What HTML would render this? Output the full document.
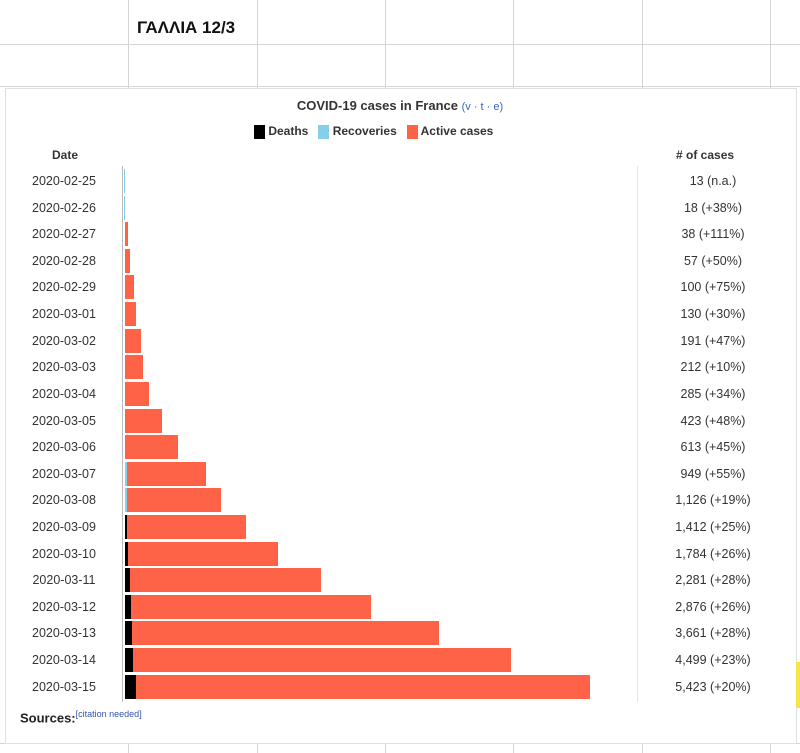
<!DOCTYPE html>
<html><head><meta charset="utf-8"><style>
body{margin:0;width:800px;height:753px;background:#fff;position:relative;overflow:hidden;font-family:"Liberation Sans",sans-serif}
.a{position:absolute}
.vl{position:absolute;width:1px;background:#d4d4d4}
.hl{position:absolute;height:1px;background:#d4d4d4}
.d{position:absolute;left:10px;width:108px;text-align:center;font-size:12.5px;color:#333;line-height:16px}
.v{position:absolute;left:642px;width:142px;text-align:center;font-size:12.5px;color:#333;line-height:16px}
.b{position:absolute;left:125px;height:24px;background:#ff6347}
.k{position:absolute;left:125px;height:24px;background:#000}
.r{position:absolute;height:24px;background:#87ceeb;width:1px}
</style></head><body>
<div class="vl" style="left:128px;top:0;height:88px"></div>
<div class="vl" style="left:257px;top:0;height:88px"></div>
<div class="vl" style="left:385px;top:0;height:88px"></div>
<div class="vl" style="left:513px;top:0;height:88px"></div>
<div class="vl" style="left:642px;top:0;height:88px"></div>
<div class="vl" style="left:770px;top:0;height:88px"></div>
<div class="hl" style="left:0;top:44px;width:800px"></div>
<div class="hl" style="left:0;top:86px;width:800px"></div>
<div class="hl" style="left:0;top:743px;width:800px"></div>
<div class="vl" style="left:128px;top:743px;height:10px"></div>
<div class="vl" style="left:257px;top:743px;height:10px"></div>
<div class="vl" style="left:385px;top:743px;height:10px"></div>
<div class="vl" style="left:513px;top:743px;height:10px"></div>
<div class="vl" style="left:642px;top:743px;height:10px"></div>
<div class="vl" style="left:770px;top:743px;height:10px"></div>
<div class="a" style="left:137px;top:18px;font-size:17px;font-weight:bold;color:#111">ΓΑΛΛΙΑ 12/3</div>
<div class="a" style="left:5px;top:88px;width:790px;height:654px;background:#fff;border:1px solid #e0e0e0"></div>
<div class="a" style="left:0;top:98px;width:800px;text-align:center;font-size:13px;font-weight:bold;color:#333">COVID-19 cases in France <span style="font-weight:normal;color:#3366cc;font-size:11px">(v · t · e)</span></div>
<div class="a" style="left:254px;top:123px;font-size:12px;font-weight:bold;color:#333;line-height:16px">
<span style="display:inline-block;width:11px;height:14px;background:#000;vertical-align:middle"></span> Deaths &nbsp;
<span style="display:inline-block;width:11px;height:14px;background:#87ceeb;vertical-align:middle"></span> Recoveries &nbsp;
<span style="display:inline-block;width:11px;height:14px;background:#ff6347;vertical-align:middle"></span> Active cases</div>
<div class="a" style="left:52px;top:148px;font-size:12px;font-weight:bold;color:#333">Date</div>
<div class="a" style="left:676px;top:148px;font-size:12px;font-weight:bold;color:#333"># of cases</div>
<div class="vl" style="left:122px;top:166px;height:536px;background:#bbb"></div>
<div class="vl" style="left:637px;top:166px;height:536px;background:#e4e4e4"></div>

<div class="d" style="top:173px">2020-02-25</div><div class="r" style="left:124px;top:169px"></div><div class="v" style="top:173px">13 (n.a.)</div>
<div class="d" style="top:200px">2020-02-26</div><div class="r" style="left:124px;top:196px"></div><div class="v" style="top:200px">18 (+38%)</div>
<div class="d" style="top:226px">2020-02-27</div><div class="b" style="top:222px;width:3px"></div><div class="v" style="top:226px">38 (+111%)</div>
<div class="d" style="top:253px">2020-02-28</div><div class="b" style="top:249px;width:5px"></div><div class="v" style="top:253px">57 (+50%)</div>
<div class="d" style="top:279px">2020-02-29</div><div class="b" style="top:275px;width:9px"></div><div class="v" style="top:279px">100 (+75%)</div>
<div class="d" style="top:306px">2020-03-01</div><div class="b" style="top:302px;width:11px"></div><div class="v" style="top:306px">130 (+30%)</div>
<div class="d" style="top:333px">2020-03-02</div><div class="b" style="top:329px;width:16px"></div><div class="v" style="top:333px">191 (+47%)</div>
<div class="d" style="top:359px">2020-03-03</div><div class="b" style="top:355px;width:18px"></div><div class="v" style="top:359px">212 (+10%)</div>
<div class="d" style="top:386px">2020-03-04</div><div class="b" style="top:382px;width:24px"></div><div class="v" style="top:386px">285 (+34%)</div>
<div class="d" style="top:413px">2020-03-05</div><div class="b" style="top:409px;width:37px"></div><div class="v" style="top:413px">423 (+48%)</div>
<div class="d" style="top:439px">2020-03-06</div><div class="b" style="top:435px;width:53px"></div><div class="v" style="top:439px">613 (+45%)</div>
<div class="d" style="top:466px">2020-03-07</div><div class="b" style="top:462px;width:81px"></div><div class="r" style="left:125px;top:462px;width:2px"></div><div class="v" style="top:466px">949 (+55%)</div>
<div class="d" style="top:492px">2020-03-08</div><div class="b" style="top:488px;width:96px"></div><div class="r" style="left:125px;top:488px;width:2px"></div><div class="v" style="top:492px">1,126 (+19%)</div>
<div class="d" style="top:519px">2020-03-09</div><div class="b" style="top:515px;width:121px"></div><div class="k" style="top:515px;width:2px"></div><div class="v" style="top:519px">1,412 (+25%)</div>
<div class="d" style="top:546px">2020-03-10</div><div class="b" style="top:542px;width:153px"></div><div class="k" style="top:542px;width:3px"></div><div class="v" style="top:546px">1,784 (+26%)</div>
<div class="d" style="top:572px">2020-03-11</div><div class="b" style="top:568px;width:196px"></div><div class="k" style="top:568px;width:5px"></div><div class="v" style="top:572px">2,281 (+28%)</div>
<div class="d" style="top:599px">2020-03-12</div><div class="b" style="top:595px;width:246px"></div><div class="k" style="top:595px;width:6px"></div><div class="v" style="top:599px">2,876 (+26%)</div>
<div class="d" style="top:625px">2020-03-13</div><div class="b" style="top:621px;width:314px"></div><div class="k" style="top:621px;width:7px"></div><div class="v" style="top:625px">3,661 (+28%)</div>
<div class="d" style="top:652px">2020-03-14</div><div class="b" style="top:648px;width:386px"></div><div class="k" style="top:648px;width:8px"></div><div class="v" style="top:652px">4,499 (+23%)</div>
<div class="d" style="top:679px">2020-03-15</div><div class="b" style="top:675px;width:465px"></div><div class="k" style="top:675px;width:11px"></div><div class="v" style="top:679px">5,423 (+20%)</div>

<div class="a" style="left:20px;top:709px;font-size:13px;font-weight:bold;color:#222">Sources:<sup style="font-weight:normal;font-size:9px;color:#3355aa">[citation needed]</sup></div>
<div class="a" style="left:796px;top:662px;width:4px;height:46px;background:#f5e642"></div>
</body></html>
